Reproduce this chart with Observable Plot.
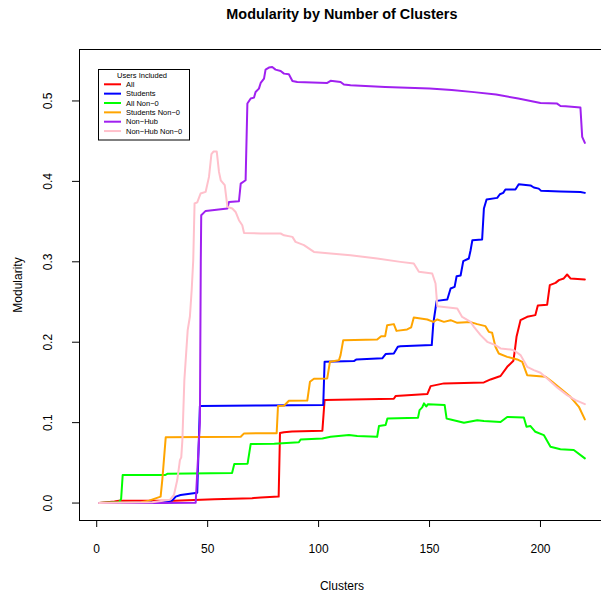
<!DOCTYPE html>
<html><head><meta charset="utf-8">
<script src="https://cdn.jsdelivr.net/npm/d3@7"></script>
<script src="https://cdn.jsdelivr.net/npm/@observablehq/plot@0.6"></script>
<style>body{margin:0;background:white;}</style>
</head><body><div id="chart"></div>
<script>
const seriesNames = ["All", "Students", "All Non−0", "Students Non−0", "Non−Hub", "Non−Hub Non−0"];
const seriesColors = ["#FF0000", "#0000FF", "#00FF00", "#FFA500", "#A020F0", "#FFC0CB"];

const allPts = [[1,0],[8,0.002],[10,0.003],[35,0.003],[53,0.0046],[70,0.006],[74,0.007],[82,0.008],[82.6,0.087],[84.4,0.088],[88,0.089],[101.7,0.09],[102.7,0.128],[133.9,0.1296],[134.7,0.133],[149,0.1355],[150.5,0.1454],[156.5,0.1488],[174.5,0.15],[177.5,0.1537],[182,0.158],[185,0.1694],[187.8,0.177],[188.5,0.191],[189.2,0.2067],[191,0.2274],[194,0.2316],[197.7,0.2337],[198.8,0.2457],[203,0.2465],[204.2,0.271],[206.8,0.2738],[208.3,0.2772],[210.5,0.2793],[212,0.2842],[213.5,0.2793],[220,0.278]];

const studentsPts = [[1,0],[30,0.001],[34,0.003],[35.6,0.008],[37.8,0.01],[45.3,0.0128],[46.5,0.1206],[73.9,0.1214],[102.1,0.122],[102.7,0.1756],[115.9,0.1765],[117.1,0.1786],[128.7,0.18],[130.2,0.1852],[133.9,0.186],[135.7,0.1943],[136.9,0.1951],[151,0.1964],[151.7,0.2233],[153.2,0.2514],[158,0.2532],[159.5,0.2668],[161.3,0.2688],[162.2,0.2821],[164,0.283],[165.2,0.3008],[167.7,0.3041],[168.5,0.3144],[169.3,0.3269],[173.7,0.3277],[174.5,0.3663],[175.7,0.3775],[180.5,0.3795],[181.7,0.384],[183.2,0.3857],[184.2,0.3899],[188.7,0.39],[190.2,0.3965],[195.5,0.395],[197,0.3924],[199.2,0.391],[200.3,0.3882],[209,0.3874],[218,0.3869],[220,0.3857]];

const allNon0Pts = [[1,0],[10,0.001],[11,0.005],[11.7,0.0348],[31,0.035],[32,0.0365],[61,0.0375],[62,0.0485],[68,0.049],[69.4,0.0735],[80,0.0738],[91.1,0.0755],[91.9,0.079],[101.7,0.0804],[105.4,0.0824],[113.7,0.0845],[117.4,0.0833],[126.4,0.0824],[127.2,0.0957],[130.2,0.097],[131,0.105],[144.8,0.106],[145.5,0.1156],[146.7,0.119],[147.5,0.124],[148.5,0.12],[149.3,0.123],[156.8,0.122],[157.7,0.105],[159.5,0.104],[165.5,0.0998],[171.5,0.103],[174.5,0.102],[182,0.1007],[185,0.107],[192.5,0.1065],[193.7,0.095],[195.5,0.0957],[197.7,0.0886],[201.5,0.0845],[204.5,0.07],[209,0.067],[215,0.066],[220,0.0555]];

const studentsNon0Pts = [[1,0],[20,0.001],[23.6,0.003],[28.8,0.008],[29.6,0.03],[31.1,0.0817],[64.9,0.0824],[66.4,0.0866],[81.1,0.0868],[81.7,0.1206],[84.4,0.121],[86.6,0.1272],[94.9,0.1275],[96.1,0.1508],[97.9,0.1545],[103.9,0.155],[105.1,0.1756],[109.2,0.1777],[109.9,0.184],[111.1,0.2026],[126.4,0.2034],[128.2,0.2075],[130,0.2075],[130.9,0.2212],[133.9,0.2225],[135.1,0.2141],[139.9,0.2159],[141.7,0.2184],[142.9,0.2308],[149,0.2283],[151.7,0.2253],[153.5,0.2283],[156.5,0.2253],[159.5,0.2274],[162.5,0.2241],[168.5,0.225],[171.5,0.2225],[175.2,0.22],[176.7,0.2129],[178.2,0.2117],[179.7,0.1943],[181.2,0.186],[185,0.1818],[189.5,0.1786],[191.8,0.1756],[194,0.159],[202.3,0.157],[205.3,0.1508],[209,0.1425],[213.5,0.1321],[217.3,0.1197],[220,0.104]];

const nonHubPts = [[1,0],[30,0],[44.6,0.0005],[46.5,0.1],[46.9,0.3],[47.1,0.358],[49.1,0.3633],[58.9,0.3662],[59.6,0.3745],[64.1,0.3753],[64.9,0.3973],[67.1,0.4014],[67.9,0.4968],[69.4,0.503],[70.9,0.5042],[71.6,0.5112],[73.1,0.5154],[73.9,0.5224],[75.4,0.5278],[76.1,0.539],[77.6,0.5415],[79.1,0.5423],[80.6,0.539],[82.9,0.5373],[84.4,0.534],[86.6,0.5332],[88.2,0.5249],[90.4,0.5237],[103.9,0.5224],[105.4,0.525],[109.9,0.5237],[111.4,0.5204],[114.4,0.5195],[130,0.5175],[140,0.5165],[150,0.5155],[160,0.5135],[170,0.511],[180,0.508],[190,0.503],[200,0.4975],[207.5,0.4967],[209,0.4938],[211.3,0.4934],[218,0.4918],[218.8,0.4553],[220,0.4478]];

const nonHubNon0Pts = [[1,0],[25,0.001],[33,0.004],[34.8,0.01],[36.3,0.0286],[37.5,0.0534],[38.1,0.0568],[38.6,0.078],[39.5,0.153],[41,0.215],[42,0.232],[42.8,0.265],[43.5,0.302],[44.1,0.3725],[45.3,0.374],[46.8,0.3849],[49.1,0.387],[50.6,0.4056],[51.7,0.4338],[52.6,0.4371],[54.1,0.4371],[55.1,0.4118],[55.9,0.4014],[57.7,0.3952],[58.9,0.3683],[61.1,0.3662],[62.6,0.362],[64.1,0.3517],[65.6,0.3455],[66.4,0.3359],[73.9,0.3352],[82.9,0.3352],[84.4,0.333],[88.2,0.331],[89.6,0.3248],[93.4,0.3207],[97.9,0.3123],[105.4,0.3103],[114.4,0.3082],[126.4,0.304],[136.9,0.2999],[142.9,0.2979],[145.2,0.2875],[151.2,0.2855],[152.7,0.273],[153.5,0.2448],[162.5,0.242],[164.7,0.2315],[168.5,0.2253],[170,0.2191],[173,0.2088],[176,0.2005],[179.7,0.1964],[182,0.1923],[186.5,0.191],[188,0.19],[191,0.184],[194,0.1694],[197,0.1653],[200,0.162],[203.8,0.1529],[207.5,0.1438],[212,0.1342],[215.8,0.128],[220,0.123]];

const xTicks = [0, 50, 100, 150, 200];
const yTicks = [0, 0.1, 0.2, 0.3, 0.4, 0.5];
const titleText = "Modularity by Number of Clusters";
const xLabel = "Clusters";
const yLabel = "Modularity";
const legendTitle = "Users Included";

const seriesPts = [allPts, studentsPts, allNon0Pts, studentsNon0Pts, nonHubPts, nonHubNon0Pts];
const rows = [];
seriesPts.forEach((pts, i) => pts.forEach(([x, y]) => rows.push({series: seriesNames[i], x, y})));

const xLim = [-7.76, 227.5];
const xMid = (-7.76 + 228.76) / 2;
const yLim = [-0.0217, 0.564];
const yMid = (yLim[0] + yLim[1]) / 2;
const font = "'Liberation Sans', Arial, Helvetica, sans-serif";

const plot = Plot.plot({
  width: 601, height: 596,
  marginTop: 49, marginBottom: 76, marginLeft: 79, marginRight: 0,
  style: {fontFamily: font, fontSize: "12px", background: "white", color: "black", overflow: "hidden"},
  x: {domain: xLim},
  y: {domain: yLim},
  color: {domain: seriesNames, range: seriesColors},
  marks: [
    Plot.axisX({ticks: xTicks, tickSize: 7, tickFormat: () => "", label: null, stroke: "black"}),
    Plot.axisY({ticks: yTicks, tickSize: 7, tickFormat: () => "", label: null, stroke: "black"}),
    Plot.ruleX([xLim[0]], {stroke: "black"}),
    Plot.ruleY(yLim, {stroke: "black"}),
    Plot.line(rows, {x: "x", y: "y", z: "series", stroke: "series", strokeWidth: 2}),
    Plot.text(xTicks, {x: d => d, text: d => String(d), frameAnchor: "bottom", lineAnchor: "middle", textAnchor: "middle", dy: 28.5, fontSize: 12, fill: "black"}),
    Plot.text(yTicks, {y: d => d, text: d => d3.format(".1f")(d), frameAnchor: "left", lineAnchor: "middle", textAnchor: "middle", dx: -31.5, rotate: -90, fontSize: 12, fill: "black"}),
    Plot.text([xLabel], {x: xMid, text: d => d, frameAnchor: "bottom", lineAnchor: "middle", textAnchor: "middle", dy: 65.5, fontSize: 12, fill: "black"}),
    Plot.text([yLabel], {y: yMid, text: d => d, frameAnchor: "left", lineAnchor: "middle", textAnchor: "middle", dx: -61, rotate: -90, fontSize: 12, fill: "black"}),
    Plot.text([titleText], {x: xMid, text: d => d, frameAnchor: "top", lineAnchor: "middle", textAnchor: "middle", dy: -35, fontSize: 14.4, fontWeight: "bold", fill: "black"})
  ]
});

// legend (R-style box, top-left inside the plot region)
const svg = d3.select(plot);
const lg = svg.append("g").attr("transform", `translate(${79 + 19.5},${49 + 20.5})`)
  .attr("font-family", font).attr("font-size", 7.5).attr("text-anchor", "start");
lg.append("rect").attr("x", 0).attr("y", 0).attr("width", 91).attr("height", 70.5)
  .attr("fill", "white").attr("stroke", "black").attr("stroke-width", 1);
lg.append("text").attr("x", 43.5).attr("y", 5.5).attr("dy", "0.35em").attr("text-anchor", "middle").attr("fill", "black").text(legendTitle);
seriesNames.forEach((name, i) => {
  const yy = 14.8 + i * 9.35;
  lg.append("line").attr("x1", 5.5).attr("x2", 22.5).attr("y1", yy).attr("y2", yy)
    .attr("stroke", seriesColors[i]).attr("stroke-width", 2);
  lg.append("text").attr("x", 27.5).attr("y", yy).attr("dy", "0.35em").attr("text-anchor", "start").attr("fill", "black").text(name);
});

document.getElementById("chart").appendChild(plot);
</script>
</body></html>
